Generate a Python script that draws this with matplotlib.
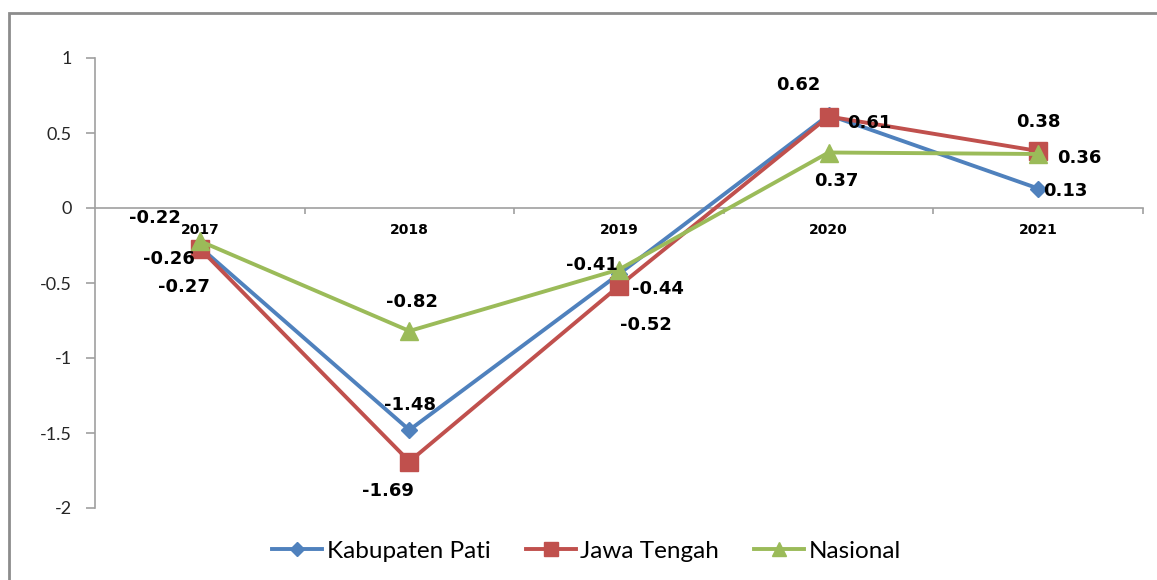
import matplotlib
matplotlib.use("Agg")
import matplotlib.pyplot as plt
from matplotlib.patches import Rectangle

years = ["2017", "2018", "2019", "2020", "2021"]
pati = [-0.26, -1.48, -0.44, 0.62, 0.13]
jateng = [-0.27, -1.69, -0.52, 0.61, 0.38]
nasional = [-0.22, -0.82, -0.41, 0.37, 0.36]
yticks = [1, 0.5, 0, -0.5, -1, -1.5, -2]
ytick_labels = ["1", "0.5", "0", "-0.5", "-1", "-1.5", "-2"]

# label offsets in pixels (dx, dy up)
off_pati = [(-31, -12), (1, 25), (39, -15), (-30, 30), (27, -2)]
off_jateng = [(-16, -38), (-21, -30), (27, -39), (41, -7), (0, 29)]
off_nas = [(-45, 23), (3, 29), (-27, 4), (8, -28), (41, -4)]

W, H = 1157, 580
fig = plt.figure(figsize=(W / 100, H / 100), dpi=100)
ax = fig.add_axes([95 / W, (H - 508) / H, (1143 - 95) / W, (508 - 58) / H])

x = list(range(len(years)))
series = [
    ("Kabupaten Pati", pati, "#4F81BD", "D", 8.5, off_pati),
    ("Jawa Tengah", jateng, "#C0504D", "s", 13, off_jateng),
    ("Nasional", nasional, "#9BBB59", "^", 13, off_nas),
]
handles = []
for name, vals, col, mk, ms, offs in series:
    h, = ax.plot(x, vals, color=col, lw=2.8, marker=mk, ms=ms, label=name,
                 solid_joinstyle="miter", zorder=3)
    handles.append(h)
    for xi, v, (dx, dy) in zip(x, vals, offs):
        ax.annotate(f"{v:.2f}", (xi, v), xytext=(dx, dy), textcoords="offset pixels",
                    ha="center", va="center", fontsize=13, fontweight="bold",
                    family="DejaVu Sans", color="black", zorder=5)

ax.set_xlim(-0.5, len(years) - 0.5)
ax.set_ylim(-2, 1)
ax.set_yticks(yticks)
ax.set_yticklabels(ytick_labels, family="Lato", fontsize=13, color="#262626")
ax.tick_params(axis="y", length=6.5, width=1.2, color="#a0a0a0", pad=10)

ax.spines["top"].set_visible(False)
ax.spines["right"].set_visible(False)
ax.spines["bottom"].set_position(("data", 0))
ax.spines["bottom"].set_color("#a0a0a0")
ax.spines["left"].set_color("#a0a0a0")
ax.spines["bottom"].set_linewidth(1.2)
ax.spines["left"].set_linewidth(1.2)

ax.set_xticks(x)
ax.set_xticklabels(years, fontsize=10, fontweight="bold", family="DejaVu Sans")
ax.tick_params(axis="x", which="major", length=0, pad=11)
ax.set_xticks([i + 0.5 for i in x], minor=True)
ax.tick_params(axis="x", which="minor", length=4.5, width=1.2, color="#a0a0a0", direction="out")

leg = fig.legend(handles=handles, loc="center left",
                 bbox_to_anchor=(272 / W, (H - 551) / H), ncol=3, frameon=False,
                 prop={"family": "Lato", "size": 17.5}, handlelength=2.05,
                 handletextpad=0.2, columnspacing=1.45, markerscale=0.8,
                 borderpad=0, borderaxespad=0)

fig.patches.append(Rectangle((9 / W, -0.1), 1.2, (H - 13) / H + 0.1,
                             transform=fig.transFigure, fill=False,
                             edgecolor="#8c8c8c", lw=2))

fig.savefig("out.png", dpi=100)
